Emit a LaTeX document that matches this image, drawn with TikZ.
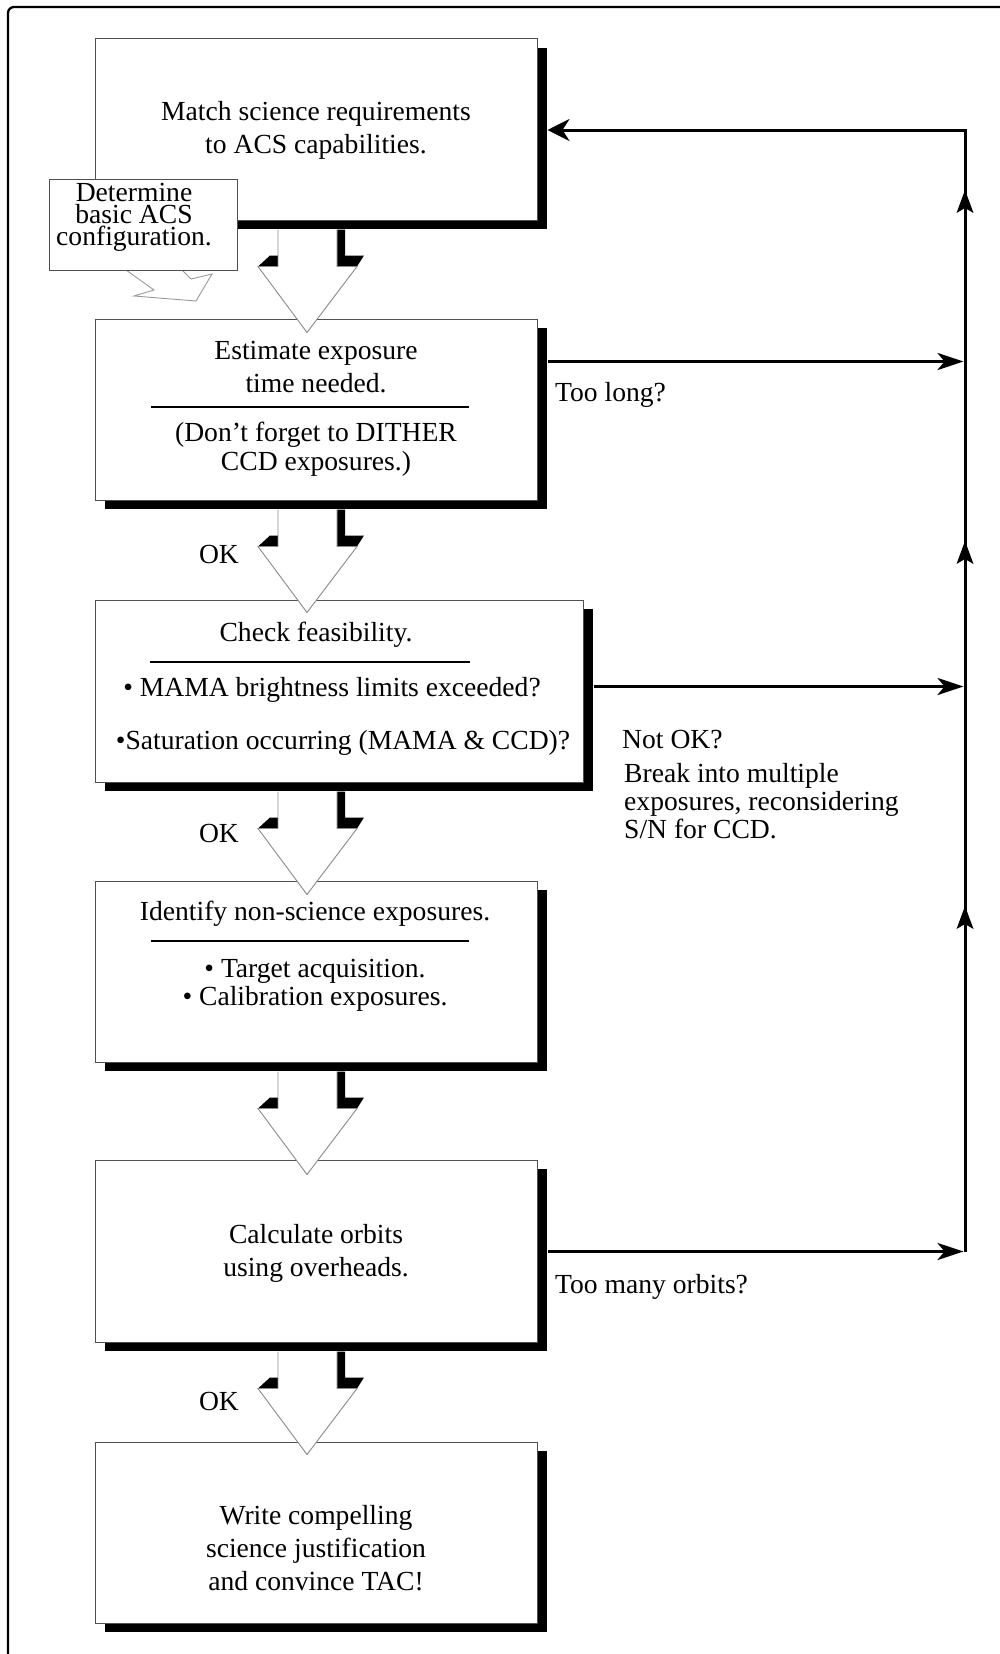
\documentclass[tikz,border=0pt]{standalone}
\usepackage{fontspec}
\setmainfont{Liberation Serif}
\usetikzlibrary{arrows.meta,shadows,calc}
\definecolor{boxgray}{HTML}{505050}
\definecolor{hollowgray}{HTML}{8A8A8A}
\definecolor{tailgray}{HTML}{999999}
\newcommand\hollowdown[1]{%
  \begin{scope}[shift={(b1.south |- #1.south)}]
    \fill[black] (21,9) -- (29,9) -- (29,35) -- (48,35) -- (41,46) -- (21,46) -- cycle;
    \fill[black] (-58,46) -- (-46,35) -- (-38,35) -- (-38,46) -- cycle;
    \fill[white] (-38,9) -- (-38,46) -- (-58,46) -- (-9,112) -- (41,46) -- (21,46) -- (21,9) -- cycle;
    \draw[hollowline] (-38,9) -- (-38,46) -- (-58,46) -- (-9,112) -- (41,46) -- (21,46) -- (21,9);
  \end{scope}}
\newcommand\upmark[1]{%
  \fill[black] ($(rt |- 0,#1)$) -- ++(-8.5,23) -- ++(8.5,-5) -- ++(8.5,5) -- cycle;}
\begin{document}
\begin{tikzpicture}[x=1pt,y=-1pt,
  stepbox/.style={draw=boxgray, line width=1pt, fill=white, minimum width=442pt,
    minimum height=181pt, inner sep=0pt,
    drop shadow={shadow xshift=10pt, shadow yshift=-9pt, fill=black, opacity=1}},
  txt/.style={font=\fontsize{27.6}{33}\selectfont, align=center, inner sep=0pt},
  rule/.style={line width=1.2pt, black},
  hollowline/.style={draw=hollowgray, line width=0.9pt, line join=miter},
  conn/.style={line width=3pt, black},
  harr/.style={-{Stealth[length=26pt,width=17pt,inset=7pt]}, shorten >=1.5pt}
]
\useasboundingbox (0,0) rectangle (1000,1654);
% outer frame
\draw[line width=2.3pt, rounded corners=6pt] (8,1680) -- (8,7) -- (1020,7);

% boxes
\node[stepbox] (b1) at (316,129.5) {};
\node[stepbox] (b2) at (316,409.5) {};
\node[stepbox, minimum width=488pt, minimum height=182pt] (b3) at (339,691) {};
\node[stepbox] (b4) at (316,971.5) {};
\node[stepbox, minimum height=182pt] (b5) at (316,1251) {};
\node[stepbox] (b6) at (316,1532.5) {};

% callout
\draw[draw=tailgray, line width=0.9pt] (126,270) -- (154,290) -- (134,296) -- (196,301) -- (212,274) -- (191,279) -- (182,270);
\node[draw=boxgray, fill=white, line width=1pt, minimum width=188pt, minimum height=91pt, inner sep=0pt] (callout) at (143,224.5) {};
\node[font=\fontsize{27.6}{22}\selectfont, align=center, inner sep=0pt] (calltext) at (134,217) {Determine\\basic ACS\\configuration.};

% hollow arrows
\hollowdown{b1}
\hollowdown{b2}
\hollowdown{b3}
\hollowdown{b4}
\hollowdown{b5}

% texts in boxes
\node[txt] (t1) at (316,130) {Match science requirements\\to ACS capabilities.};
\node[txt] (t2a) at (316,367) {Estimate exposure\\time needed.};
\draw[rule] (151,407) -- (469,407);
\node[txt, font=\fontsize{27.6}{29}\selectfont] (t2b) at (316,449) {(Don't forget to DITHER\\CCD exposures.)};
\node[txt] (t3a) at (316,635) {Check feasibility.};
\draw[rule] (150,662) -- (470,662);
\node[txt] (t3b) at (332,690) {• MAMA brightness limits exceeded?};
\node[txt] (t3c) at (343,743) {•Saturation occurring (MAMA \& CCD)?};
\node[txt] (t4a) at (315,914) {Identify non-science exposures.};
\draw[rule] (151,941) -- (469,941);
\node[txt, font=\fontsize{27.6}{28}\selectfont] (t4b) at (315,985) {• Target acquisition.\\• Calibration exposures.};
\node[txt] (t5) at (316,1253) {Calculate orbits\\using overheads.};
\node[txt] (t6) at (316,1548) {Write compelling\\science justification\\and convince TAC!};

% OK labels
\node[txt] (ok2) at (219,554) {OK};
\node[txt] (ok3) at (219,833) {OK};
\node[txt] (ok5) at (219,1401) {OK};

% right-hand loop
\coordinate (rt) at (965,130);
\coordinate (rb) at (965,1252);
\coordinate (s2) at ($(b2.north east)+(10,43)$);
\coordinate (s3) at ($(b3.north east)+(10,87)$);
\coordinate (s5) at ($(b5.north east)+(10,92)$);
\draw[conn, -{Stealth[length=22pt,width=22pt,inset=7pt]}, shorten >=10pt] (rb) -- (rt) -- (b1.east |- rt);
\upmark{190}
\upmark{541}
\upmark{906}
\draw[conn, harr] (s2) -- (s2 -| rt);
\draw[conn, harr] (s3) -- (s3 -| rt);
\draw[conn, harr] (s5) -- (s5 -| rt);

% side labels
\node[txt, anchor=west] (l2) at (555,395) {Too long?};
\node[txt, anchor=west] (l3) at (622,740) {Not OK?};
\node[txt, anchor=west, align=left, font=\fontsize{27.6}{28}\selectfont] (l3b) at (624,801) {Break into multiple\\exposures, reconsidering\\S/N for CCD.};
\node[txt, anchor=west] (l5) at (555,1287) {Too many orbits?};
\end{tikzpicture}
\end{document}
